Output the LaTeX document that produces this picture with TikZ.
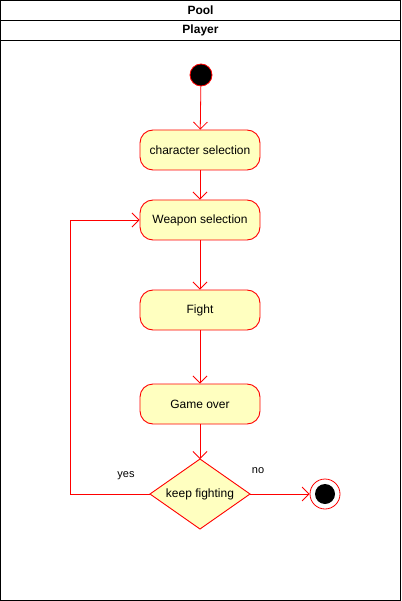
\documentclass[tikz,border=0pt]{standalone}
\usepackage{fontspec}
\setmainfont{Liberation Sans}
\usetikzlibrary{arrows.meta,shapes.geometric}
\definecolor{actfill}{HTML}{FFFFC0}
\definecolor{actline}{HTML}{FF0000}
\tikzset{
  x=1pt,y=-1pt,
  act/.style={draw=actline,fill=actfill,rounded corners=13pt,minimum width=120pt,minimum height=40pt,inner sep=0pt,line width=0.9pt,font=\fontsize{12}{14}\selectfont},
  flow/.style={draw=actline,-{Straight Barb[length=7pt,width=14pt,line width=0.8pt]},line width=0.8pt},
  lbl/.style={font=\fontsize{11}{13}\selectfont,inner sep=0pt,anchor=base},
  hdr/.style={font=\bfseries\fontsize{12}{14}\selectfont,inner sep=0pt}
}
\begin{document}
\begin{tikzpicture}
\useasboundingbox (0,0) rectangle (401,601);
\draw[line width=0.8pt] (0.5,0.5) rectangle (400.5,600.5);
\draw[line width=0.8pt] (0.5,20) -- (400.5,20);
\draw[line width=0.8pt] (0.5,40) -- (400.5,40);
\node[hdr] (pool) at (200.5,10) {Pool};
\node[hdr] (player) at (200.5,30) {Player};
\node[circle,fill=black,draw=actline,minimum size=22pt,inner sep=0pt,line width=0.8pt] (start) at (201,75) {};
\node[act] (cs) at (200,150) {character selection};
\node[act] (ws) at (200,220) {Weapon selection};
\node[act] (fi) at (200,310) {Fight};
\node[act] (go) at (200,404) {Game over};
\path[draw=actline,fill=actfill,line width=0.9pt] (200,459) -- (250,494) -- (200,529) -- (150,494) -- cycle;
\node[inner sep=0pt,minimum width=100pt,minimum height=70pt,font=\fontsize{12}{14}\selectfont] (kf) at (200,494) {keep fighting};
\node[circle,draw=actline,fill=white,minimum size=30pt,inner sep=0pt,line width=0.8pt] (end) at (325,494) {};
\node[circle,fill=black,minimum size=20pt,inner sep=0pt] (endin) at (325,494) {};
\coordinate (kfn) at (200,459);
\coordinate (kfw) at (150,494);
\coordinate (kfe) at (250,494);
\draw[flow] (start) -- (cs);
\draw[flow] (cs) -- (ws);
\draw[flow] (ws) -- (fi);
\draw[flow] (fi) -- (go);
\draw[flow] (go) -- (kfn);
\draw[flow] (kfw) -- (70,494) -- (70,220) -- (ws.west);
\draw[flow] (kfe) -- (end.west);
\node[lbl] (yes) at (126,477) {yes};
\node[lbl] (no) at (258,473) {no};
\end{tikzpicture}
\end{document}
